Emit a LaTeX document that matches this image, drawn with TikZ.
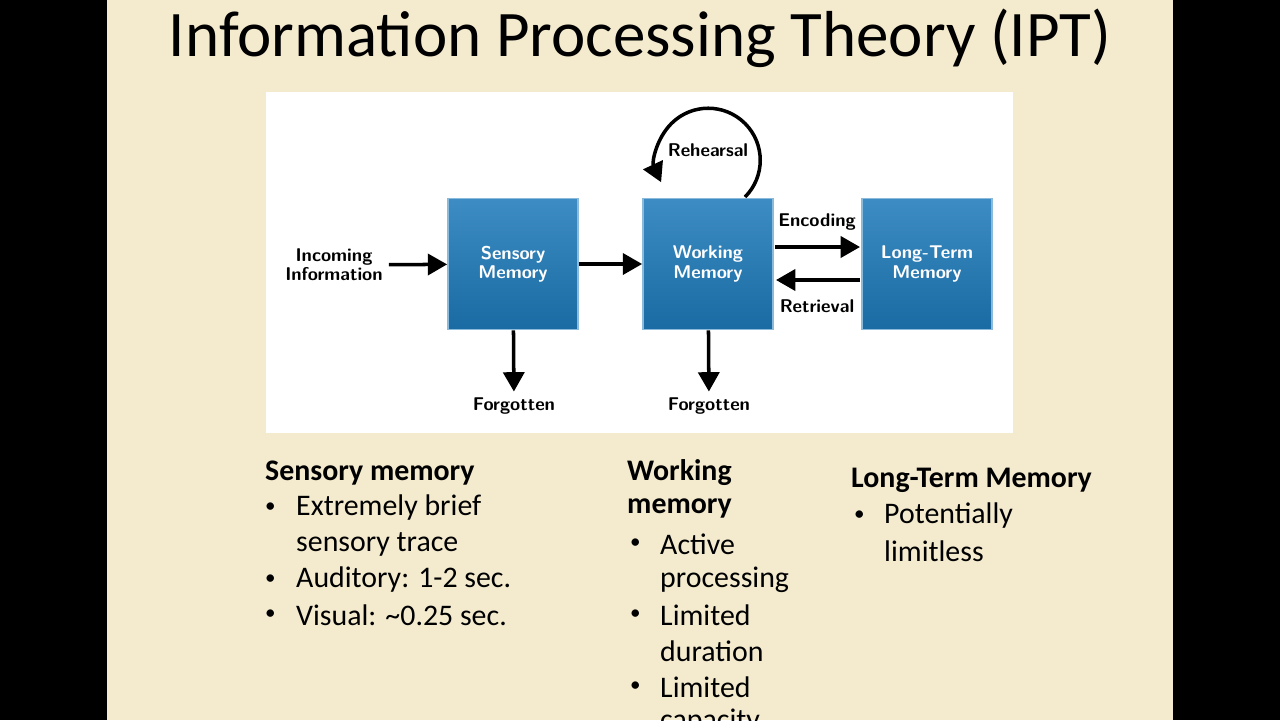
\documentclass[tikz,border=0pt]{standalone}
\usepackage{fontspec}
\setmainfont{Carlito}
\usetikzlibrary{arrows.meta}
\definecolor{paper}{HTML}{F4EBCF}
\definecolor{boxtop}{HTML}{3D8DC4}
\definecolor{boxbot}{HTML}{1A6AA3}
\tikzset{
  mem/.style={draw=boxtop!60!white, line width=1pt, top color=boxtop, bottom color=boxbot,
    minimum width=2.6cm, minimum height=2.62cm, text=white, font=\sffamily\bfseries\fontsize{10.5}{11}\selectfont, align=center},
  lbl/.style={font=\sffamily\bfseries\fontsize{10.5}{11}\selectfont, align=center},
  flow/.style={line width=2pt, -{Triangle[length=11pt,width=12pt]}},
  head/.style={anchor=west, font=\fontsize{17}{19}\selectfont\bfseries},
  item/.style={anchor=west, font=\fontsize{17}{19}\selectfont},
  dot/.style={anchor=west, font=\fontsize{12}{14}\selectfont},
}
\begin{document}
\begin{tikzpicture}[x=0.02cm,y=-0.02cm]
\clip (0,0) rectangle (1280,720);
\fill[black] (0,0) rectangle (1280,720);
\fill[paper] (107,0) rectangle (1173,720);
\node[font=\fontsize{37}{40}\selectfont] (title) at (640,38) {Information Processing Theory (IPT)};
\fill[white] (266,92) rectangle (1013,433);

\node[mem] (sm) at (513,264) {Sensory\\Memory};
\node[mem] (wm) at (708,264) {Working\\Memory};
\node[mem] (ltm) at (927,264) {Long-Term\\Memory};
\node[lbl] (in) at (334,265) {Incoming\\Information};
\node[lbl] (f1) at (514,406) {Forgotten};
\node[lbl] (f2) at (709,406) {Forgotten};
\node[lbl] (reh) at (708,150) {Rehearsal};
\node[lbl] (enc) at (817,222) {Encoding};
\node[lbl] (ret) at (817,306) {Retrieval};
\coordinate (e1) at (775,247); \coordinate (e2) at (860,247);
\coordinate (r1) at (860,280); \coordinate (r2) at (776,280);
\coordinate (loop) at (745,197);

\draw[flow] (in) -- (sm);
\draw[flow] (sm) -- (wm);
\draw[flow] (e1) -- (e2);
\draw[flow] (r1) -- (r2);
\draw[flow] (sm) -- (f1);
\draw[flow] (wm) -- (f2);
\draw[flow] (loop) arc[start angle=45,end angle=-205,radius=52];

\node[head] (h1) at (259,473) {Sensory memory};
\node[dot] at (259,508) {•}; \node[item] at (290,508) {Extremely brief};
\node[item] at (290,544) {sensory trace};
\node[dot] at (259,580) {•}; \node[item] at (290,580) {Auditory: 1-2 sec.};
\node[dot] at (259,615) {•}; \node[item] at (290,615) {Visual: \textasciitilde0.25 sec.};

\node[head] (h2) at (621,473) {Working};
\node[head] at (621,508) {memory};
\node[dot] at (624,544) {•}; \node[item] at (654,544) {Active};
\node[item] at (654,580) {processing};
\node[dot] at (624,615) {•}; \node[item] at (654,615) {Limited};
\node[item] at (654,651) {duration};
\node[dot] at (624,687) {•}; \node[item] at (654,687) {Limited};
\node[item] at (654,722) {capacity};

\node[head] (h3) at (845,480) {Long-Term Memory};
\node[dot] at (848,516) {•}; \node[item] at (878,516) {Potentially};
\node[item] at (878,551) {limitless};
\end{tikzpicture}
\end{document}
